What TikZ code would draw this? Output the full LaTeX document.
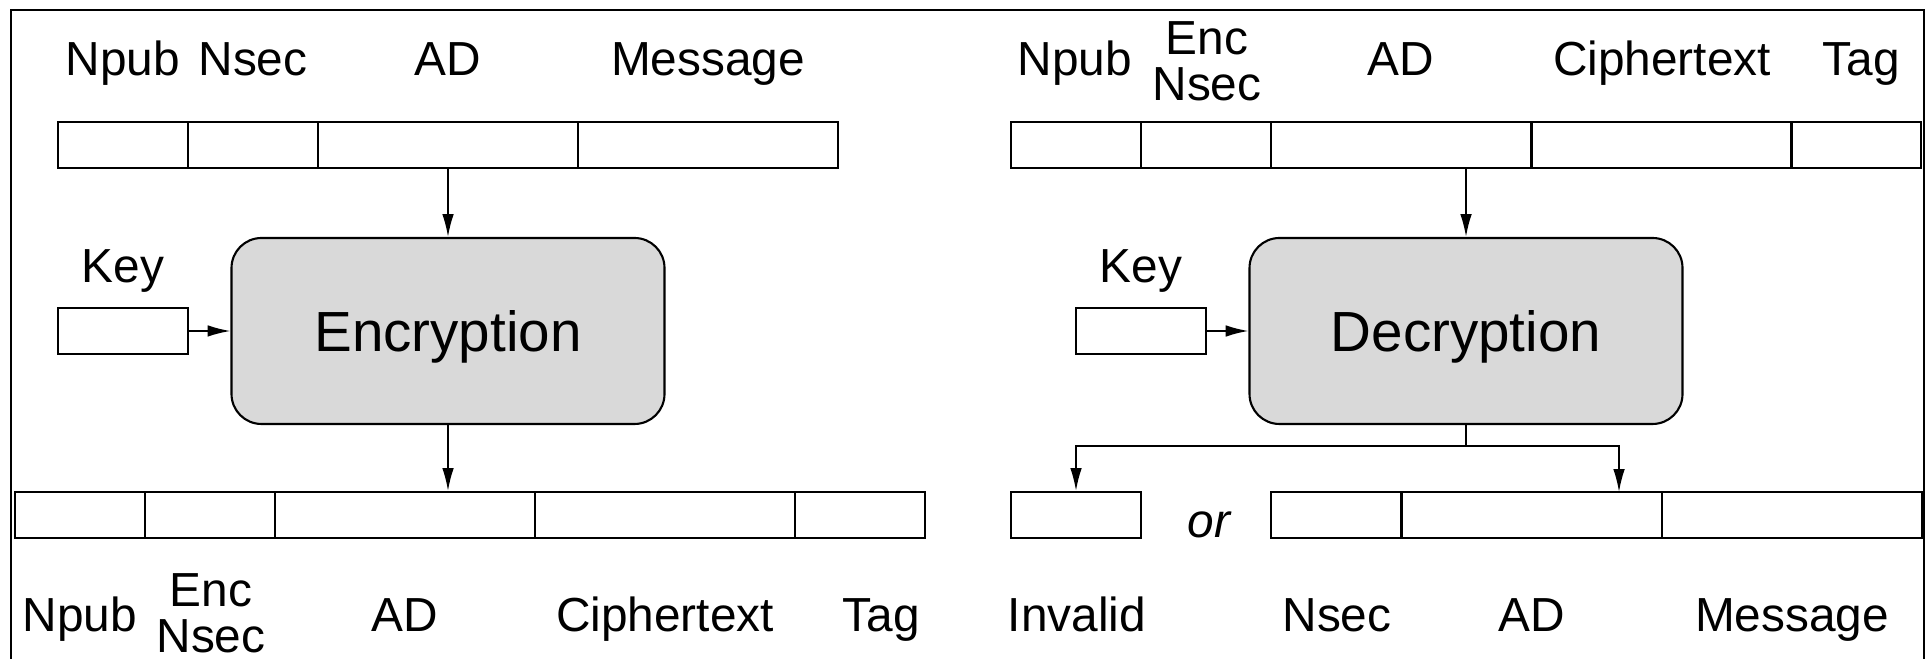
\documentclass[tikz,border=0pt]{standalone}
\usepackage{fontspec}
\setmainfont{Liberation Sans}
\usetikzlibrary{arrows.meta}
\definecolor{boxgray}{RGB}{217,217,217}

\begin{document}
\begin{tikzpicture}[
  field/.style={draw, line width=0.6pt, minimum height=0.46cm, inner sep=0pt},
  one/.style={field, minimum width=1.3cm},
  two/.style={field, minimum width=2.6cm},
  engine/.style={draw, line width=0.6pt, fill=boxgray, rounded corners=0.3cm,
    minimum width=4.33cm, minimum height=1.86cm,
    font=\fontsize{16.1}{18}\selectfont, text height=11.5pt, text depth=0pt},
  lbl/.style={anchor=base, inner sep=0pt, font=\fontsize{13.6}{13}\selectfont},
  lbltwo/.style={align=center, inner sep=0pt, font=\fontsize{13.6}{13}\selectfont},
  flow/.style={-{Latex[length=6.5pt,width=3.3pt]}, line width=0.5pt}
]
  \useasboundingbox (0,0) rectangle (19.26,6.59);
  \draw[line width=0.6pt] (0.11,0) -- (0.11,6.49) -- (19.24,6.49) -- (19.24,0);

  \node[lbl] (lenpub) at (1.23,5.83) {Npub};
  \node[lbl] (lensec) at (2.53,5.83) {Nsec};
  \node[lbl] (lead) at (4.48,5.83) {AD};
  \node[lbl] (lemsg) at (7.08,5.83) {Message};

  \node[one] (enpub) at (1.23,5.14) {};
  \node[one] (ensec) at (2.53,5.14) {};
  \node[two] (ead) at (4.48,5.14) {};
  \node[two] (emsg) at (7.08,5.14) {};

  \node[lbl] (lekey) at (1.23,3.76) {Key};
  \node[one] (ekey) at (1.23,3.28) {};
  \node[engine] (enc) at (4.48,3.28) {Encryption};

  \draw[flow] (ead.south) -- (enc.north);
  \draw[flow] (ekey) -- (enc);

  \node[one] (cnpub) at (0.80,1.44) {};
  \node[one] (cnsec) at (2.10,1.44) {};
  \node[two] (cad) at (4.05,1.44) {};
  \node[two] (cct) at (6.65,1.44) {};
  \node[one] (ctag) at (8.60,1.44) {};

  \draw[flow] (enc.south) -- (enc.south |- cad.north);

  \node[lbl] (lcnpub) at (0.80,0.27) {Npub};
  \node[lbltwo] (lcnsec) at (2.11,0.46) {Enc\\Nsec};
  \node[lbl] (lcad) at (4.05,0.27) {AD};
  \node[lbl] (lcct) at (6.65,0.27) {Ciphertext};
  \node[lbl] (lctag) at (8.81,0.27) {Tag};

  \node[lbl] (ldnpub) at (10.75,5.83) {Npub};
  \node[lbltwo] (ldnsec) at (12.07,5.975) {Enc\\Nsec};
  \node[lbl] (ldad) at (14.01,5.83) {AD};
  \node[lbl] (ldct) at (16.62,5.83) {Ciphertext};
  \node[lbl] (ldtag) at (18.615,5.83) {Tag};

  \node[one] (dnpub) at (10.76,5.14) {};
  \node[one] (dnsec) at (12.06,5.14) {};
  \node[two] (dad) at (14.01,5.14) {};
  \node[two] (dct) at (16.62,5.14) {};
  \node[one] (dtag) at (18.56,5.14) {};

  \node[lbl] (ldkey) at (11.41,3.76) {Key};
  \node[one] (dkey) at (11.41,3.28) {};
  \node[engine] (dec) at (14.66,3.28) {Decryption};

  \draw[flow] (dec.north |- dad.south) -- (dec.north);
  \draw[flow] (dkey) -- (dec);

  \node[one] (inv) at (10.76,1.44) {};
  \node[lbl, font=\fontsize{13.6}{13}\selectfont\itshape] (or) at (12.09,1.21) {or};
  \node[one] (pnsec) at (13.36,1.44) {};
  \node[two] (pad) at (15.32,1.44) {};
  \node[two] (pmsg) at (17.92,1.44) {};

  \coordinate (split) at (14.66,2.13);
  \coordinate (okin) at (16.19,1.67);
  \draw[flow] (dec.south) -- (split) -| (inv.north);
  \draw[flow] (split) -| (okin);

  \node[lbl] (linv) at (10.77,0.27) {Invalid};
  \node[lbl] (lpnsec) at (13.37,0.27) {Nsec};
  \node[lbl] (lpad) at (15.32,0.27) {AD};
  \node[lbl] (lpmsg) at (17.92,0.27) {Message};
\end{tikzpicture}
\end{document}
